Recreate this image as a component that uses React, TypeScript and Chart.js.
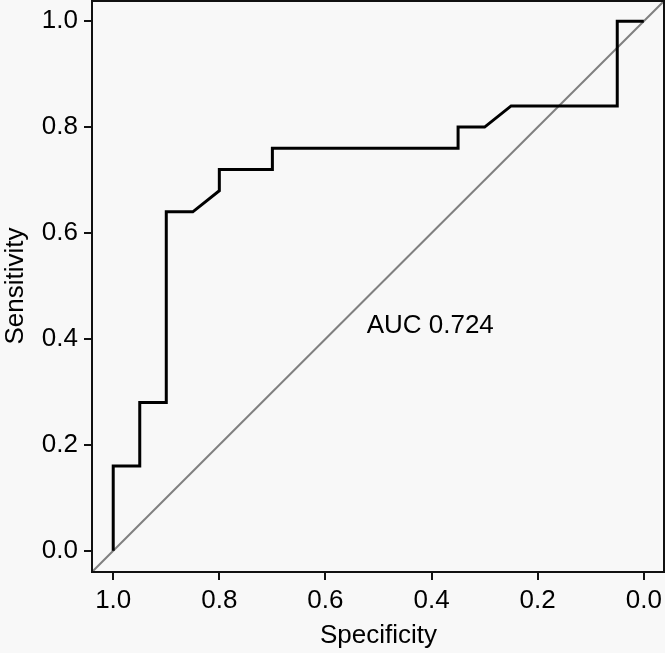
import React, { useEffect, useRef } from "react";
import { Chart, registerables } from "chart.js";

Chart.register(...registerables);

const specificity = [1.0, 1.0, 0.95, 0.95, 0.9, 0.9, 0.85, 0.8, 0.8, 0.7, 0.7, 0.35, 0.35, 0.3, 0.25, 0.05, 0.05, 0.0];
const sensitivity = [0.0, 0.16, 0.16, 0.28, 0.28, 0.64, 0.64, 0.68, 0.72, 0.72, 0.76, 0.76, 0.8, 0.8, 0.84, 0.84, 1.0, 1.0];
const diagX = [1.04, -0.04];
const diagY = [-0.04, 1.04];
const tickValues = [0, 0.2, 0.4, 0.6, 0.8, 1.0];
const aucLabel = "AUC 0.724";
const aucPos = { x: 0.4025, y: 0.424 };

const FONT = "'Liberation Sans', Arial, Helvetica, sans-serif";
const BG = "#f8f8f8";

const framePlugin = {
  id: "frame",
  beforeDraw(chart: any) {
    const { ctx, width, height } = chart;
    ctx.save();
    ctx.fillStyle = BG;
    ctx.fillRect(0, 0, width, height);
    ctx.restore();
  },
  afterDatasetsDraw(chart: any) {
    const { ctx, chartArea, scales } = chart;
    ctx.save();
    ctx.strokeStyle = "#111";
    ctx.lineWidth = 2;
    ctx.strokeRect(chartArea.left, chartArea.top + 1, chartArea.right - chartArea.left - 1, chartArea.bottom - chartArea.top - 1);
    ctx.fillStyle = "#000";
    ctx.font = `26px ${FONT}`;
    ctx.textAlign = "center";
    ctx.textBaseline = "middle";
    ctx.fillText(aucLabel, scales.x.getPixelForValue(aucPos.x), scales.y.getPixelForValue(aucPos.y));
    ctx.restore();
  },
};

export default function App() {
  const ref = useRef<HTMLCanvasElement>(null);
  useEffect(() => {
    document.body.style.margin = "0";
    document.body.style.background = BG;
    const canvas = ref.current!;
    const setTicks = (scale: any) => {
      scale.ticks = tickValues.map((v) => ({ value: v }));
    };
    const chart = new Chart(canvas, {
      type: "scatter",
      data: {
        datasets: [
          {
            data: diagX.map((x, i) => ({ x, y: diagY[i] })),
            showLine: true,
            borderColor: "#808080",
            borderWidth: 2,
            pointRadius: 0,
            order: 2,
          },
          {
            data: specificity.map((x, i) => ({ x, y: sensitivity[i] })),
            showLine: true,
            borderColor: "#000",
            borderWidth: 3,
            pointRadius: 0,
            borderJoinStyle: "miter",
            order: 1,
          },
        ],
      },
      options: {
        animation: false,
        responsive: false,
        devicePixelRatio: 1,
        layout: { padding: { top: 0, right: 0, left: 0, bottom: 0 } },
        plugins: { legend: { display: false }, tooltip: { enabled: false } },
        scales: {
          x: {
            type: "linear",
            reverse: true,
            min: -0.04,
            max: 1.04,
            afterBuildTicks: setTicks,
            afterFit: (s: any) => { s.height = 81; s.paddingLeft = 0; s.paddingRight = 0; },
            border: { display: false },
            grid: { drawOnChartArea: false, drawTicks: true, tickLength: 8, color: "#111", lineWidth: 2 },
            ticks: {
              color: "#000",
              font: { family: FONT, size: 26 },
              padding: 5,
              maxRotation: 0,
              callback: (v: any) => Number(v).toFixed(1),
            },
            title: { display: true, text: "Specificity", color: "#000", font: { family: FONT, size: 26 }, padding: { top: 0, bottom: 2 } },
          },
          y: {
            type: "linear",
            min: -0.04,
            max: 1.04,
            afterBuildTicks: setTicks,
            afterFit: (s: any) => { s.width = 92; s.paddingTop = 0; s.paddingBottom = 0; },
            border: { display: false },
            grid: { drawOnChartArea: false, drawTicks: true, tickLength: 8, color: "#111", lineWidth: 2 },
            ticks: {
              color: "#000",
              font: { family: FONT, size: 26 },
              padding: 6,
              callback: (v: any) => Number(v).toFixed(1),
            },
            title: { display: true, text: "Sensitivity", color: "#000", font: { family: FONT, size: 26 }, padding: { top: 0, bottom: 0 } },
          },
        },
      },
      plugins: [framePlugin],
    });
    return () => chart.destroy();
  }, []);
  return (
    <div style={{ width: 665, height: 653, background: BG }}>
      <canvas ref={ref} width={665} height={653} style={{ display: "block" }} />
    </div>
  );
}
